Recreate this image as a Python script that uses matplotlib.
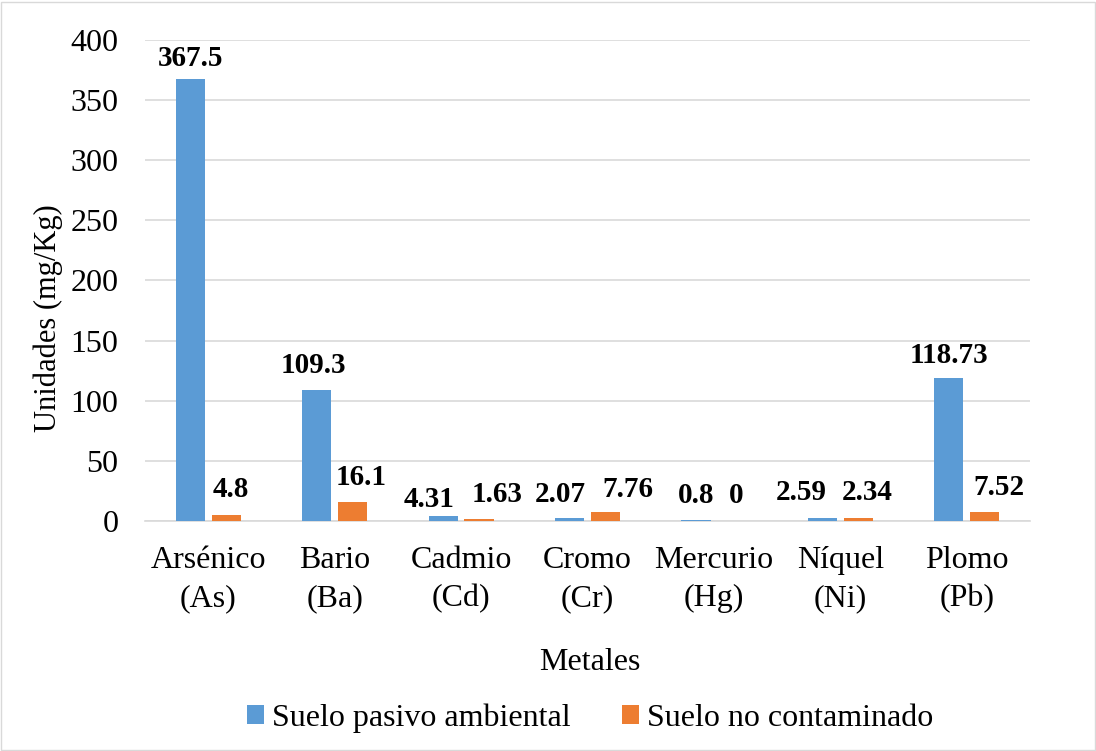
import numpy as np
import matplotlib
matplotlib.use('Agg')
import matplotlib.pyplot as plt
from matplotlib.patches import Rectangle

metales = ['Arsénico\n(As)', 'Bario\n(Ba)', 'Cadmio\n(Cd)', 'Cromo\n(Cr)',
           'Mercurio\n(Hg)', 'Níquel\n(Ni)', 'Plomo\n(Pb)']
pasivo = [367.5, 109.3, 4.31, 2.07, 0.8, 2.59, 118.73]
no_contaminado = [4.8, 16.1, 1.63, 7.76, 0, 2.34, 7.52]

plt.rcParams['font.family'] = ['Liberation Serif', 'DejaVu Serif']

azul = '#5B9BD5'
naranja = '#ED7D31'

# desplazamiento (px) de cada etiqueta respecto al centro/tope de su barra
desp_pasivo = [(0, 13), (-3, 17), (-14, 9), (-9, 16), (0, 17), (-21, 18), (0, 15)]
desp_no_cont = [(5, 18), (9, 17), (18, 17), (22, 15), (4, 18), (9, 18), (14, 17)]

fig = plt.figure(figsize=(10.96, 7.51), dpi=100)
fig.patches.append(Rectangle((0.001, 0.001), 0.998, 0.997, transform=fig.transFigure,
                             fill=False, edgecolor='#D9D9D9', linewidth=1))
ax = fig.add_axes([0.1323, 0.3063, 0.8075, 0.6404])

x = np.arange(len(metales))
ancho = 0.23
desp = 0.142
b1 = ax.bar(x - desp, pasivo, ancho, color=azul, label='Suelo pasivo ambiental', zorder=3)
b2 = ax.bar(x + desp, no_contaminado, ancho, color=naranja, label='Suelo no contaminado', zorder=3)

for barras, valores, offs in ((b1, pasivo, desp_pasivo), (b2, no_contaminado, desp_no_cont)):
    for rect, v, (dx, dy) in zip(barras, valores, offs):
        ax.annotate(f'{v:g}', (rect.get_x() + rect.get_width() / 2, rect.get_height()),
                    xytext=(dx, dy), textcoords='offset pixels', ha='center', va='baseline',
                    fontsize=21, fontweight='bold')

ax.set_xlim(-0.5, len(metales) - 0.5)
ax.set_ylim(0, 400)
ax.set_yticks(np.arange(0, 401, 50))
ax.yaxis.grid(True, color='#D9D9D9', linewidth=1.2, zorder=0)
ax.set_axisbelow(True)
for s in ('top', 'left', 'right'):
    ax.spines[s].set_visible(False)
ax.spines['bottom'].set_color('#D9D9D9')
ax.spines['bottom'].set_linewidth(1.2)
ax.tick_params(axis='both', length=0, labelsize=23)
ax.tick_params(axis='y', pad=19)
ax.tick_params(axis='x', pad=18)
ax.set_xticks(x)
ax.set_xticklabels(metales, linespacing=1.4)

fig.text(0.044, 0.577, 'Unidades (mg/Kg)', rotation=90, ha='center', va='center', fontsize=22)
fig.text(0.538, 0.118, 'Metales', ha='center', va='center', fontsize=23)

ax.legend(loc='center', bbox_to_anchor=(0.503, -0.41), ncol=2, frameon=False,
          fontsize=23, handlelength=0.55, handleheight=0.55, handletextpad=0.25,
          columnspacing=1.6)

fig.savefig('out.png', dpi=100, facecolor='white')
